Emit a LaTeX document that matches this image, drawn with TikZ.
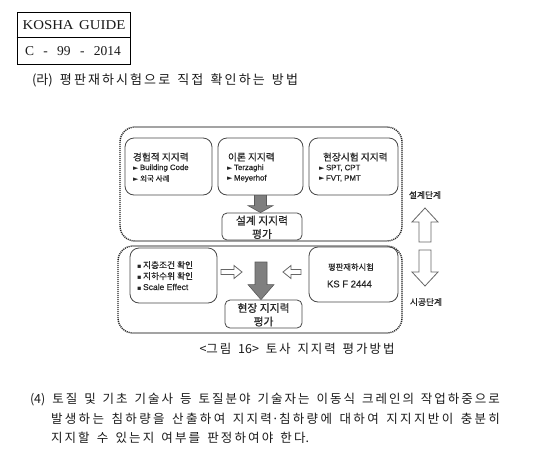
\documentclass[tikz,border=0pt]{standalone}
\usepackage{fontspec}
\usetikzlibrary{calc}
\setmainfont{Liberation Serif}
\newfontfamily\kr{Noto Sans CJK KR}
\newfontfamily\krd{Noto Sans CJK KR}[FakeBold=0.8]
\newfontfamily\sym{DejaVu Sans}
\newfontfamily\ls{Liberation Sans}[FakeBold=0.6]
\XeTeXinterchartokenstate=1
\newXeTeXintercharclass\hangulcls
\newcount\hcnt
\hcnt="AC00
\loop\XeTeXcharclass\hcnt=\hangulcls\ifnum\hcnt<"D7A3 \advance\hcnt by 1 \repeat
\XeTeXinterchartoks\hangulcls\hangulcls={\hskip0pt plus 1pt\relax}
\newcommand\spreadto[2]{\makebox[#1][s]{\spaceskip=0.3em plus 1.6pt\relax #2}}
\definecolor{txt}{HTML}{1A1A1A}
\definecolor{dtxt}{HTML}{262626}
\definecolor{bord}{HTML}{474747}
\definecolor{garrow}{HTML}{7F7F7F}
\tikzset{
  rbox/.style={draw=bord, line width=0.8pt, rounded corners=9pt, fill=none},
  dotbox/.style={draw=black!85, line width=1.4pt, dash pattern=on 1.1pt off 0.9pt, rounded corners=15pt},
  garr/.style={fill=garrow, draw=black!65, line width=0.6pt},
  harr/.style={fill=white, draw=black!60, line width=0.8pt},
  lbl/.style={inner sep=0pt, outer sep=0pt, text=dtxt},
  btxt/.style={inner sep=0pt, outer sep=0pt, text=txt},
}
\newcommand\tri{{\sym\fontsize{7}{7}\selectfont ►}}
\newcommand\sq{{\sym\fontsize{6.5}{6.5}\selectfont ▪}}
\begin{document}
\begin{tikzpicture}[x=1pt,y=-1pt]
\useasboundingbox[fill=white] (0,0) rectangle (557,472);
% header table
\node[draw=black, line width=0.8pt, minimum width=113pt, minimum height=52pt, inner sep=0pt] (hdr) at (73.5,38) {};
\draw[line width=0.8pt] (hdr.west) ++(0,-1) -- ($(hdr.east)+(0,-1)$);
\node[btxt] (kg) at (74,25) {\fontsize{13.5}{13}\selectfont\scalebox{1.1}[1]{KOSHA\hskip 5pt GUIDE}};
\node[btxt] (cn) at (73,51.5) {\fontsize{13.5}{13}\selectfont\makebox[96pt][s]{\spaceskip=4pt plus 1fil\relax C - 99 - 2014}};
% heading
\node[btxt, anchor=west] (ra) at (32,80) {\kr\fontsize{13}{12}\selectfont\spreadto{266pt}{(라) 평판재하시험으로 직접 확인하는 방법}};

% dotted groups
\draw[dotbox] (120,127) rectangle (402,241);
\draw[dotbox] (118,246) rectangle (402,333);

% top boxes
\node[rbox, minimum width=87pt, minimum height=57pt] (b1) at (168.5,166.5) {};
\node[rbox, minimum width=85pt, minimum height=57pt] (b2) at (260.5,166.5) {};
\node[rbox, minimum width=89pt, minimum height=57pt] (b3) at (353.5,166.5) {};
\node[lbl, anchor=west] (b1t) at (133,157) {\krd\fontsize{9.7}{10}\selectfont 경험적 지지력};
\node[lbl, anchor=west] (b1a) at (133,168) {\tri\,\ls\fontsize{7.8}{8}\selectfont Building Code};
\node[lbl, anchor=west] (b1b) at (133,178.5) {\tri\,\krd\fontsize{7.6}{8}\selectfont 외국 사례};
\node[lbl, anchor=west] (b2t) at (228,157) {\krd\fontsize{9.7}{10}\selectfont 이론 지지력};
\node[lbl, anchor=west] (b2a) at (227,168) {\tri\,\ls\fontsize{7.8}{8}\selectfont Terzaghi};
\node[lbl, anchor=west] (b2b) at (227,178.5) {\tri\,\ls\fontsize{7.8}{8}\selectfont Meyerhof};
\node[lbl, anchor=west] (b3t) at (323,157) {\krd\fontsize{9.7}{10}\selectfont 현장시험 지지력};
\node[lbl, anchor=west] (b3a) at (319,168) {\tri\,\ls\fontsize{7.8}{8}\selectfont SPT, CPT};
\node[lbl, anchor=west] (b3b) at (319,178.5) {\tri\,\ls\fontsize{7.8}{8}\selectfont FVT, PMT};

% design box
\node[rbox, rounded corners=5pt, fill=white, minimum width=80pt, minimum height=27pt] (des) at (262,226.5) {};
\node[lbl] (dest) at (262,220.5) {\krd\fontsize{10.8}{11}\selectfont 설계 지지력};
\node[lbl] (desp) at (262,234) {\krd\fontsize{10.8}{11}\selectfont 평가};

% gray arrow top
\filldraw[garr] ($(b2.south)+(-6,0)$) -- ($(b2.south |- des.north)+(-6,-7)$) -- ($(b2.south |- des.north)+(-12.5,-7)$)
  -- (b2.south |- des.north) -- ($(b2.south |- des.north)+(12.5,-7)$) -- ($(b2.south |- des.north)+(6,-7)$)
  -- ($(b2.south)+(6,0)$) -- cycle;

% bottom boxes
\node[rbox, minimum width=87pt, minimum height=55pt] (lb) at (173.5,275.5) {};
\node[lbl, anchor=west] (lb1) at (137,265) {\sq\,\krd\fontsize{8.7}{9}\selectfont 지층조건 확인};
\node[lbl, anchor=west] (lb2) at (137,276) {\sq\,\krd\fontsize{8.7}{9}\selectfont 지하수위 확인};
\node[lbl, anchor=west] (lb3) at (137,287) {\sq\,\ls\fontsize{8.5}{9}\selectfont Scale Effect};
\node[rbox, minimum width=89pt, minimum height=55pt] (rb) at (353.5,274.5) {};
\node[lbl] (rb1) at (351,267) {\krd\fontsize{8.3}{9}\selectfont 평판재하시험};
\node[lbl, anchor=west] (rb2) at (327,284) {\ls\fontsize{9.5}{10}\selectfont KS F 2444};
\node[rbox, rounded corners=5pt, fill=white, minimum width=77pt, minimum height=28pt] (site) at (263.5,314) {};
\node[lbl] (sitet) at (263.5,308) {\krd\fontsize{10.8}{11}\selectfont 현장 지지력};
\node[lbl] (sitep) at (263.5,321.5) {\krd\fontsize{10.8}{11}\selectfont 평가};

% gray arrow bottom
\coordinate (gtop) at (261,262);
\filldraw[garr] ($(gtop)+(-6,0)$) -- ($(gtop |- site.north)+(-6,-15)$) -- ($(gtop |- site.north)+(-13,-15)$)
  -- (gtop |- site.north) -- ($(gtop |- site.north)+(13,-15)$) -- ($(gtop |- site.north)+(6,-15)$)
  -- ($(gtop)+(6,0)$) -- cycle;

% hollow horizontal arrows
\coordinate (la) at (221,272);
\draw[harr] ($(la)+(0,-2.5)$) -- ($(la)+(13,-2.5)$) -- ($(la)+(13,-6.5)$) -- ($(la)+(21,0)$)
  -- ($(la)+(13,6.5)$) -- ($(la)+(13,2.5)$) -- ($(la)+(0,2.5)$) -- cycle;
\coordinate (ra2) at (301,272);
\draw[harr] ($(ra2)+(0,-2.5)$) -- ($(ra2)+(-10,-2.5)$) -- ($(ra2)+(-10,-6.5)$) -- ($(ra2)+(-18,0)$)
  -- ($(ra2)+(-10,6.5)$) -- ($(ra2)+(-10,2.5)$) -- ($(ra2)+(0,2.5)$) -- cycle;

% right side stage arrows
\node[lbl] (st1) at (425,195) {\krd\fontsize{8.7}{9}\selectfont 설계단계};
\node[lbl] (st2) at (426,302) {\krd\fontsize{8.7}{9}\selectfont 시공단계};
\coordinate (upt) at (425,208);
\draw[harr] (upt) -- ($(upt)+(13,14)$) -- ($(upt)+(6,14)$) -- ($(upt)+(6,34)$) -- ($(upt)+(-6,34)$)
  -- ($(upt)+(-6,14)$) -- ($(upt)+(-13,14)$) -- cycle;
\coordinate (dnt) at (425,286);
\draw[harr] (dnt) -- ($(dnt)+(13,-14)$) -- ($(dnt)+(6,-14)$) -- ($(dnt)+(6,-36)$) -- ($(dnt)+(-6,-36)$)
  -- ($(dnt)+(-6,-14)$) -- ($(dnt)+(-13,-14)$) -- cycle;

% caption
\node[btxt] (cap) at (297,349) {\kr\fontsize{12.5}{12}\selectfont\spreadto{195pt}{<그림 16> 토사 지지력 평가방법}};

% paragraph
\node[btxt, anchor=west] (p1) at (30,400) {\kr\fontsize{12.5}{12}\selectfont\spreadto{470pt}{(4) 토질 및 기초 기술사 등 토질분야 기술자는 이동식 크레인의 작업하중으로}};
\node[btxt, anchor=west] (p2) at (51,419) {\kr\fontsize{12.5}{12}\selectfont\spreadto{449pt}{발생하는 침하량을 산출하여 지지력·침하량에 대하여 지지지반이 충분히}};
\node[btxt, anchor=west] (p3) at (51,438) {\kr\fontsize{12.5}{12}\selectfont\spreadto{258pt}{지지할 수 있는지 여부를 판정하여야 한다.}};
\end{tikzpicture}
\end{document}
